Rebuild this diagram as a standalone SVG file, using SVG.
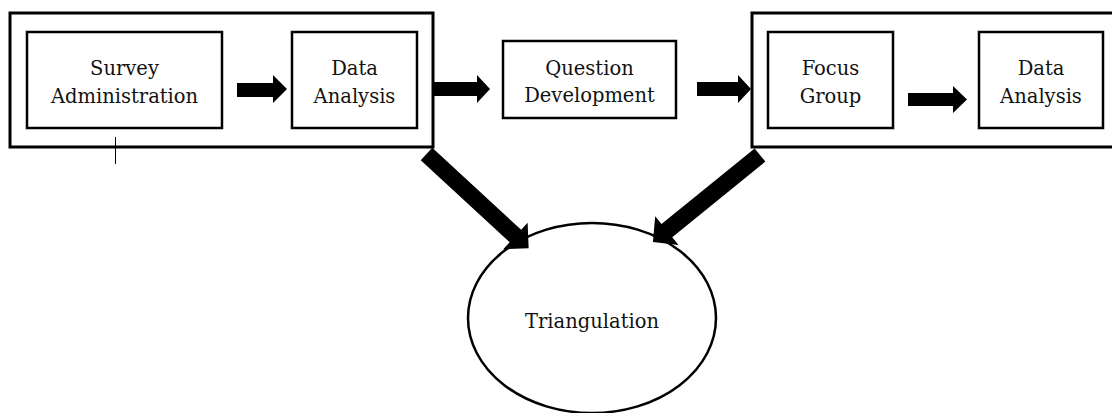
<svg xmlns="http://www.w3.org/2000/svg" width="1112" height="413" viewBox="0 0 1112 413">
<style>
.outer{fill:none;stroke:#000;stroke-width:3}
.box{fill:#fff;stroke:#000;stroke-width:2.5}
.t{font-family:"DejaVu Serif","Liberation Serif",serif;font-size:19.5px;fill:#111;text-anchor:middle}
.arr{fill:#000}
</style>
<rect width="1112" height="413" fill="#fff"/>
<g id="group-left"><rect class="outer" x="10" y="13" width="423" height="134"/></g>
<g id="group-right"><rect class="outer" x="752" y="13" width="370" height="134"/></g>
<g id="survey-administration"><rect class="box" x="27" y="32" width="195" height="96"/><text class="t" x="124.5" y="75">Survey</text><text class="t" x="124.5" y="103">Administration</text></g>
<g id="data-analysis-1"><rect class="box" x="292" y="32" width="125" height="96"/><text class="t" x="354.5" y="75">Data</text><text class="t" x="354.5" y="103">Analysis</text></g>
<g id="question-development"><rect class="box" x="503" y="41" width="173" height="77"/><text class="t" x="589.5" y="75">Question</text><text class="t" x="589.5" y="102">Development</text></g>
<g id="focus-group"><rect class="box" x="768" y="32" width="125" height="96"/><text class="t" x="830.5" y="75">Focus</text><text class="t" x="830.5" y="103">Group</text></g>
<g id="data-analysis-2"><rect class="box" x="979" y="32" width="124" height="96"/><text class="t" x="1041" y="75">Data</text><text class="t" x="1041" y="103">Analysis</text></g>
<g id="triangulation"><ellipse cx="592" cy="318" rx="124" ry="95" fill="#fff" stroke="#000" stroke-width="2.5"/><text class="t" x="592" y="328">Triangulation</text></g>
<g id="connectors">
<polygon class="arr" points="237,83 273,83 273,75 287,89 273,103 273,97 237,97"/>
<polygon class="arr" points="433,82 477,82 477,75 490,89 477,103 477,96 433,96"/>
<polygon class="arr" points="697,82 738,82 738,75 751,89 738,103 738,96 697,96"/>
<polygon class="arr" points="908,93 953,93 953,86 967,99.5 953,113 953,106 908,106"/>
<polygon class="arr" transform="translate(426.5,154) rotate(42.7)" points="0,-8.5 121,-8.5 121,-18 139,0 121,18 121,8.5 0,8.5"/>
<polygon class="arr" transform="translate(760,155) rotate(140.9)" points="0,-8.5 120,-8.5 120,-18.5 138,0 120,18.5 120,8.5 0,8.5"/>
</g>
<line x1="115.5" y1="137" x2="115.5" y2="164" stroke="#000" stroke-width="1"/>
</svg>
